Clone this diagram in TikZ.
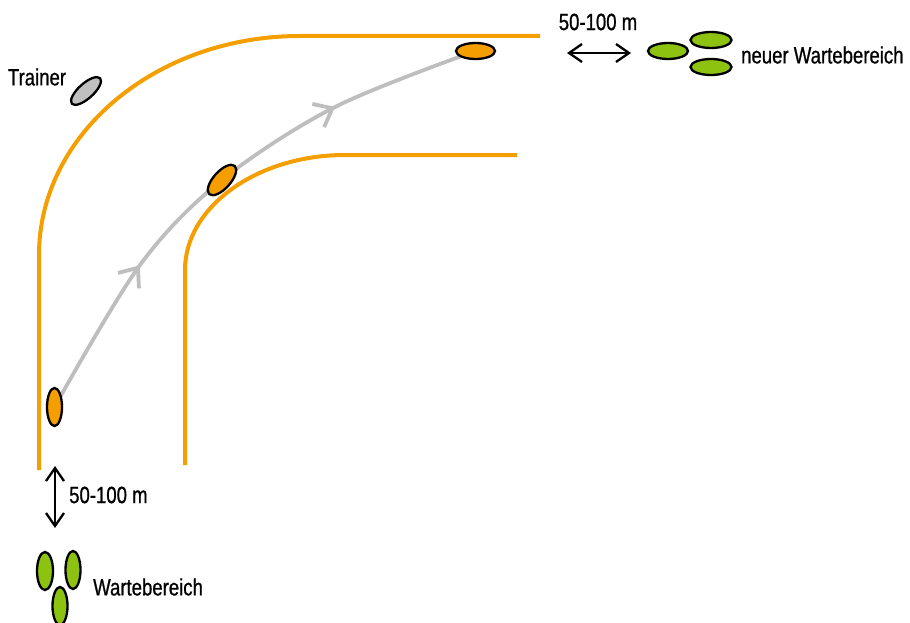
\documentclass[tikz,border=0pt]{standalone}
\usepackage{fontspec}
\setmainfont[FakeStretch=0.79,FakeBold=0.8]{Liberation Sans}
\usetikzlibrary{arrows.meta,decorations.markings,shapes.geometric}
\definecolor{trackorange}{RGB}{245,158,0}
\definecolor{horsegreen}{RGB}{141,194,16}
\definecolor{pathgray}{RGB}{190,190,190}
\definecolor{trainergray}{RGB}{192,192,192}
\begin{document}
\begin{tikzpicture}[x=1pt,y=-1pt,
  track/.style={draw=trackorange,line width=4pt},
  horse/.style={ellipse,draw=black,line width=2.3pt,inner sep=0pt},
  hlying/.style={horse,minimum width=39pt,minimum height=16pt},
  hstand/.style={horse,minimum width=15pt,minimum height=38pt},
  lbl/.style={font=\fontsize{23.5}{27}\selectfont,inner sep=0pt},
  dist/.style={line width=2.3pt,{Straight Barb[length=13pt,width=18pt]}-{Straight Barb[length=13pt,width=18pt]}},
  chev/.style={decoration={markings,
     mark=at position 0.29 with {\arrow{Straight Barb[length=16pt,width=26pt]}},
     mark=at position 0.735 with {\arrow{Straight Barb[length=16pt,width=26pt]}}},
     postaction={decorate}},
  ridepath/.style={draw=pathgray,line width=3.8pt}]
\useasboundingbox (0,0) rectangle (910,623);

% track
\draw[track] (39,470) -- (39,255) .. controls (39,134) and (156,36) .. (300,36) -- (540,36);
\draw[track] (185,465) -- (185,270) .. controls (185,207) and (257,155) .. (345,155) -- (517,155);

% ride path
\coordinate (p1) at (54.5,407);
\coordinate (c1) at (140,265);
\coordinate (p2) at (222,180);
\coordinate (c2) at (335,107);
\coordinate (p3) at (475.5,51);
\draw[ridepath,chev] plot[smooth,tension=0.55] coordinates {(p1) (c1) (p2) (c2) (p3)};

% riders
\node[hstand,fill=trackorange] (r1) at (p1) {};
\node[hlying,fill=trackorange,rotate=48,minimum width=38pt,minimum height=17pt] (r2) at (p2) {};
\node[hlying,fill=trackorange] (r3) at (p3) {};

% trainer
\node[hlying,fill=trainergray,rotate=42,minimum width=38pt,minimum height=15pt] (tr) at (86,91) {};
\node[lbl] (trl) at (37,77) {Trainer};

% new waiting area
\node[hlying,fill=horsegreen,minimum width=40pt] (g1) at (668,51) {};
\node[hlying,fill=horsegreen,minimum width=41pt] (g2) at (711,40) {};
\node[hlying,fill=horsegreen,minimum width=41pt] (g3) at (711,67) {};
\node[lbl,anchor=west] (nw) at (741,55) {neuer Wartebereich};
\coordinate (ha) at (567,53);
\coordinate (hb) at (631,53);
\draw[dist] (ha) -- (hb);
\node[lbl] (d1) at (598,22) {50-100 m};

% waiting area
\node[hstand,fill=horsegreen,minimum width=16pt] (w1) at (45,571) {};
\node[hstand,fill=horsegreen] (w2) at (73,570) {};
\node[hstand,fill=horsegreen] (w3) at (60,606) {};
\node[lbl,anchor=west] (wl) at (93,587) {Wartebereich};
\coordinate (va) at (55,466);
\coordinate (vb) at (55,528);
\draw[dist] (va) -- (vb);
\node[lbl,anchor=west] (d2) at (69,495) {50-100 m};
\end{tikzpicture}
\end{document}
